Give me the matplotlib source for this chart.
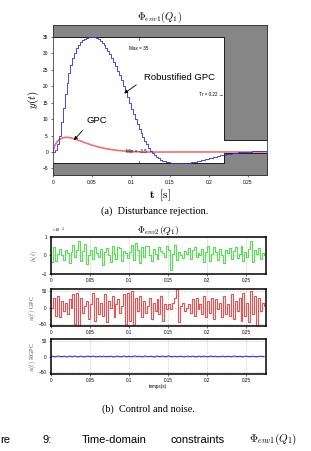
import numpy as np
import matplotlib
matplotlib.use('Agg')
import matplotlib.pyplot as plt

plt.rcParams['font.family'] = ['Liberation Sans', 'DejaVu Sans']
plt.rcParams['mathtext.fontset'] = 'cm'

# sample time of the discrete signals
dt = 0.0025

# robustified GPC output (blue), step response to disturbance
y_rgpc = [0, 0.5, 2.5, 5, 9, 13.5, 17.5, 21, 24, 26.5,
          28.5, 30.2, 31.5, 32.5, 33.3, 33.9, 34.4, 34.7, 34.9, 35.0,
          35.0, 34.9, 34.6, 34.2, 33.7, 33.1, 32.4, 31.6, 30.7, 29.7,
          28.6, 27.4, 26.1, 24.7, 23.3, 21.8, 20.0, 18.3, 16.6, 14.9,
          13.2, 11.6, 10.0, 8.5, 7.1, 5.8, 4.5, 3.3, 2.3, 1.3,
          0.4, -0.3, -0.9, -1.4, -1.9, -2.3, -2.6, -2.75, -2.9, -3.1,
          -3.25, -3.35, -3.42, -3.47, -3.5, -3.5, -3.48, -3.45, -3.4, -3.33,
          -3.25, -3.15, -3.05, -2.93, -2.8, -2.66, -2.52, -2.37, -2.22, -2.07,
          -1.92, -1.77, -1.62, -1.47, -1.33, -1.19, -1.05, -0.92, -0.8, -0.68,
          -0.57, -0.47, -0.38, -0.3, -0.22, -0.15, -0.09, -0.03, 0.02, 0.06,
          0.1, 0.13, 0.16, 0.18, 0.2, 0.22, 0.23, 0.24, 0.25, 0.26, 0.26]

# classical GPC output (red)
y_gpc = [0, 2.0, 3.0, 3.6, 4.0, 4.25, 4.4, 4.45, 4.4, 4.3,
         4.15, 3.98, 3.8, 3.6, 3.4, 3.15, 2.9, 2.7, 2.5, 2.3,
         2.1, 1.92, 1.75, 1.58, 1.43, 1.29, 1.16, 1.04, 0.93, 0.83,
         0.74, 0.65, 0.57, 0.5, 0.43, 0.37, 0.31, 0.26, 0.21, 0.17,
         0.13, 0.1, 0.07, 0.05, 0.03, 0.01, 0.0, -0.01, -0.02, -0.02,
         -0.03, -0.03, -0.03, -0.03, -0.03, -0.03, -0.02, -0.02, -0.02, -0.02,
         -0.01, -0.01, -0.01, -0.01, -0.01, 0, 0, 0, 0, 0,
         0, 0, 0, 0, 0, 0, 0, 0, 0, 0,
         0, 0, 0, 0, 0, 0, 0, 0, 0, 0,
         0, 0, 0, 0, 0, 0, 0, 0, 0, 0,
         0, 0, 0, 0, 0, 0, 0, 0, 0, 0, 0]

# time-domain template
bound_t = [0, 0.22, 0.275]
upper = [35, 3.5, 3.5]
lower = [-3.5, -0.25, -0.25]

# measurement noise (x1e-4)
noise = [-0.35, 0.45, -0.3, 0.1, 0.35, 0.05, -0.25, 0.3, 0.15, -0.4,
         0.2, 0.55, -0.1, 0.3, 0.8, -0.3, 0.25, 0.6, -0.45, 0.05,
         0.3, -0.2, 0.45, 0.15, -0.1, 0.35, -0.5, 0.2, 0.4, 0.05,
         -0.35, 0.5, 0.1, -0.2, 0.45, 0.4, -0.3, 0.25, 0.15, -0.15,
         0.2, 0.55, -0.25, 0.7, 0.3, -0.4, 0.45, -0.1, 0.5, 0.5,
         0.05, -0.3, 0.35, 0.1, -0.2, 0.45, 0.25, 0.15, -0.1, 0.5,
         0.3, -0.8, 0.1, 0.55, -0.25, 0.2, 0.05, -0.15, 0.25, 0.1,
         0.4, -0.2, 0.3, 0.45, -0.1, 0.15, 0.0, 0.35, -0.35, 0.2,
         0.5, -0.3, 0.1, 0.45, 0.2, -0.25, 0.35, 0.05, -0.4, 0.3,
         0.15, 0.4, -0.2, 0.25, 0.45, -0.15, 0.1, 0.5, -0.3, 0.2,
         -0.1, 0.35, 0.8, -0.35, 0.3, 0.1, 0.4, -0.2, 0.15, 0.05]

# control signal GPC
u_gpc = [0, 30, -25, 35, -30, 20, -10, 15, -20, 25,
         0, 40, -50, 45, -55, 30, -15, 5, 20, -35,
         10, 45, -40, 30, -20, 15, -25, 40, -45, 20,
         0, 35, -30, 10, 25, -15, 5, 40, -50, 45,
         -40, 50, -55, 30, -10, 35, -30, 20, -15, 5,
         30, -35, 15, -10, 25, -20, 35, -40, 10, -5,
         10, -5, 15, 30, 58, -45, 5, 15, -10, 0,
         10, -15, 25, -25, 30, -5, 10, -20, 35, -30,
         20, -15, 30, -35, 25, -5, 15, -30, 35, -20,
         10, -25, 40, -35, 20, -10, 30, -40, 45, -25,
         15, -45, 50, -20, 35, -58, 30, -10, 15, 5]

# control signal robustified GPC
u_rgpc = [0, 1, -1, 0.5, 1.5, -0.5, 0, 1, -1.5, 0.5,
          1, -0.5, 1.5, 0, -1, 1, 0.5, -1, 0, 1.5,
          -0.5, 0.5, 1, -1, 0, 1, -0.5, 1.5, -1, 0.5,
          0, 1, -1.5, 0.5, 1, 0, -1, 1.5, 0.5, -0.5,
          1, -1, 0.5, 2, -0.5, 1, 0, -1, 1.5, 0.5,
          -0.5, 1, 0, -1.5, 1, 0.5, -0.5, 1.5, 0, -1,
          2, 0.5, -1, 1, 0, -0.5, 1, 0.5, -1, 0,
          1.5, -0.5, 0.5, 1, -1, 0, 1, -0.5, 1, 0.5,
          -1, 0, 1.5, -0.5, 1, 0, -1, 0.5, 1, -0.5,
          0, 1, -1, 0.5, 1.5, -0.5, 0, 1, -1, 0.5,
          1, 0, -0.5, 1, 0.5, -1, 0, 1, 0.5, 0]

xticks = [0, 0.05, 0.1, 0.15, 0.2, 0.25]
xlabels = ['0', '0.05', '0.1', '0.15', '0.2', '0.25']

fig = plt.figure(figsize=(3.11, 4.51), dpi=100)

# ---- (a) disturbance rejection ----
ax = fig.add_axes([0.170, 0.612, 0.689, 0.3326])
ymin, ymax = -7, 38.6
ax.fill_between(bound_t, upper, ymax, step='post', facecolor='#868686',
                edgecolor='k', lw=0.6)
ax.fill_between(bound_t, ymin, lower, step='post', facecolor='#868686',
                edgecolor='k', lw=0.6)

t1 = np.arange(len(y_rgpc)) * dt
t2 = np.arange(len(y_gpc)) * dt
ax.plot(t2, y_gpc, color='#f06060', lw=1.2, alpha=0.9)
ax.step(t1, y_rgpc, where='post', color='#2a2ae8', lw=0.6)

ax.set_xlim(0, 0.275)
ax.set_ylim(ymin, ymax)
ax.set_xticks(xticks)
ax.set_xticklabels(xlabels)
ax.set_yticks(range(-5, 40, 5))
ax.tick_params(labelsize=3.5, length=1.5, width=0.4, pad=2)
for s in ax.spines.values():
    s.set_linewidth(0.6)
    s.set_color('#444444')

ax.plot([0.11, 0.11], [33.9, 35], color='k', lw=0.4)
ax.plot([0.11, 0.11], [-3.5, -2.6], color='k', lw=0.4)
ax.text(0.110, 31.4, 'Max = 35', fontsize=3.3, ha='center', va='center')
ax.text(0.107, 0.0, 'Min = -3.5', fontsize=3.3, ha='center', va='center')
ax.text(0.2195, 17.5, 'Tr = 0.22 \u2192', fontsize=3.3, ha='right',
        va='center')

ax.text(0.163, 22.6, 'Robustified GPC', fontsize=6.8, ha='center',
        va='center')
ax.annotate('', xy=(0.0914, 17.8), xytext=(0.107, 20.4),
            arrowprops=dict(arrowstyle='-|>', color='k', lw=0.6,
                            mutation_scale=5, shrinkA=0, shrinkB=0))
ax.text(0.057, 9.5, 'GPC', fontsize=6.8, ha='center', va='center')
ax.annotate('', xy=(0.027, 3.6), xytext=(0.038, 6.5),
            arrowprops=dict(arrowstyle='-|>', color='k', lw=0.6,
                            mutation_scale=5, shrinkA=0, shrinkB=0))

ax.set_title(r'$\Phi_{env1}(Q_1)$', fontsize=7.5, pad=3)
ax.set_ylabel(r'$y(t)$', fontsize=8, labelpad=1)
ax.set_xlabel(r'$\mathbf{t}\ \ [\mathrm{s}]$', fontsize=8, labelpad=2)

fig.text(0.498, 0.532, '(a)  Disturbance rejection.', fontsize=7.4,
         family='Liberation Serif', ha='center', va='center')

# ---- (b) control and noise ----
def lower_panel(rect, t, v, color, ylim, yticks, ylabel, step=True):
    a = fig.add_axes(rect)
    if step:
        a.step(t, v, where='post', color=color, lw=0.8)
    else:
        a.plot(t, v, color=color, lw=0.8)
    a.set_xlim(0, 0.275)
    a.set_ylim(*ylim)
    a.set_xticks(xticks)
    a.set_xticklabels(xlabels)
    a.set_yticks(yticks)
    a.grid(True, ls=':', lw=0.4, color='#999999')
    a.tick_params(labelsize=3.3, length=1.5, width=0.4, pad=1.5)
    for s in a.spines.values():
        s.set_linewidth(1.1)
    a.set_ylabel(ylabel, fontsize=4.5, family='Liberation Serif', labelpad=1,
                 color='#555555')
    return a

tn = np.arange(len(noise)) * dt
ax2 = lower_panel([0.164, 0.3925, 0.691, 0.082], tn, noise, '#55e055',
                  (-1, 1), [-1, 0, 1], r'$h(t)$')
ax2.set_title(r'$\Phi_{env2}(Q_1)$', fontsize=7, pad=2)
ax2.text(0.0, 1.05, r'$\times 10^{-4}$', transform=ax2.transAxes,
         fontsize=3.3, va='bottom')

tu = np.arange(len(u_gpc)) * dt
lower_panel([0.164, 0.277, 0.691, 0.082], tu, u_gpc, '#f05050',
            (-56, 56), [-50, 0, 50], r'$u(t)$ GPC')

tr = np.arange(len(u_rgpc)) * dt
ax4 = lower_panel([0.164, 0.171, 0.691, 0.077], tr, u_rgpc, '#3535e0',
                  (-56, 56), [-50, 0, 50], r'$u(t)$ RGPC', step=False)
ax4.set_xlabel('temps(s)', fontsize=3.3, labelpad=1)

fig.text(0.478, 0.093, '(b)  Control and noise.', fontsize=7.4,
         family='Liberation Serif', ha='center', va='center')

# figure caption at the bottom (cut off in the source page)
cap_y = 0.025
fig.text(0.0, cap_y, 're', fontsize=8, va='center')
fig.text(0.138, cap_y, '9:', fontsize=8, va='center')
fig.text(0.264, cap_y, 'Time-domain', fontsize=8, va='center')
fig.text(0.547, cap_y, 'constraints', fontsize=8, va='center')
fig.text(0.80, cap_y, r'$\Phi_{env1}(Q_1)$', fontsize=8, va='center')

fig.savefig('out.png', dpi=100)
